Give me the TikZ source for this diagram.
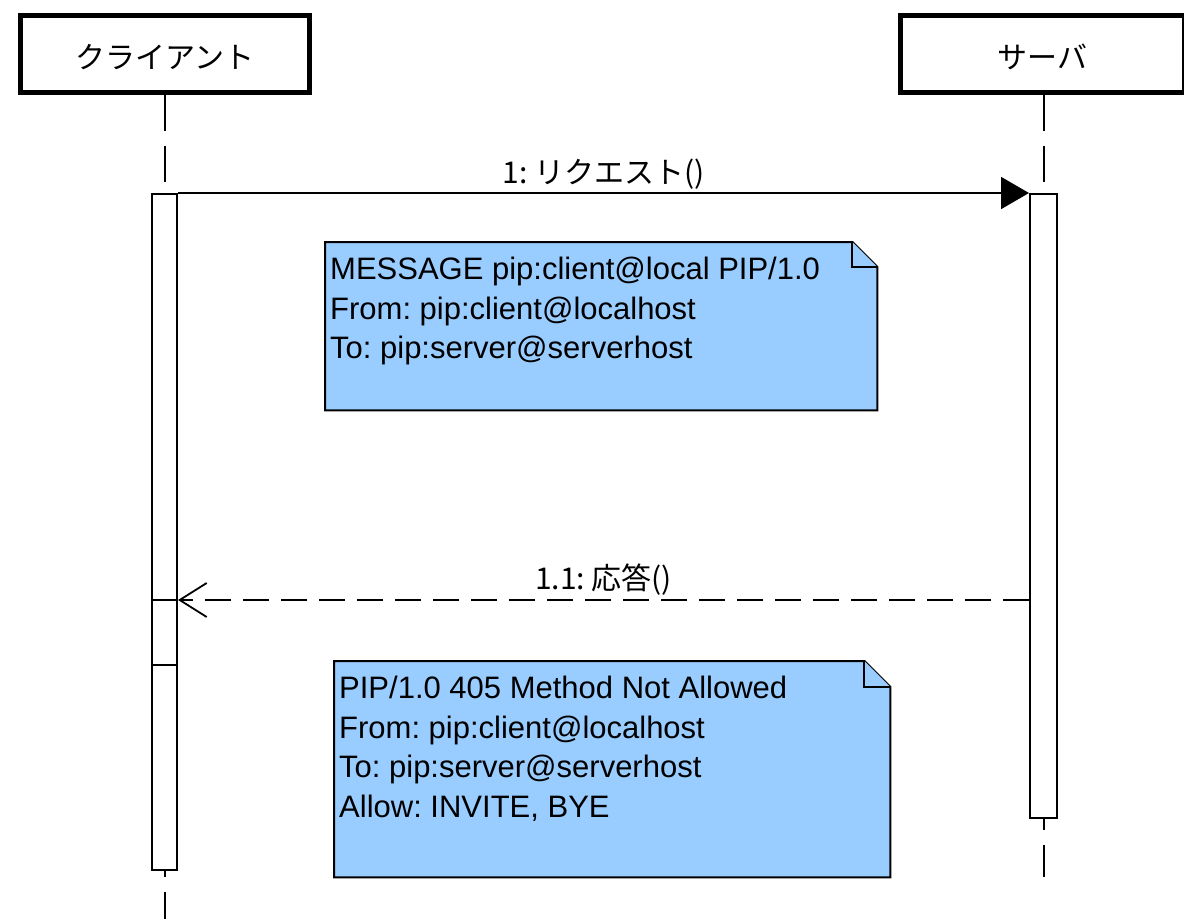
\documentclass[tikz,border=0pt]{standalone}
\usepackage{fontspec}
\setmainfont{Liberation Sans}
\newfontfamily\jp{Noto Sans CJK JP}
\usetikzlibrary{arrows.meta}
\definecolor{notefill}{RGB}{153,204,255}
\frenchspacing
\begin{document}
\begin{tikzpicture}[x=1pt,y=-1pt,
  actor/.style={draw, line width=4.5pt, fill=white, inner sep=0pt},
  lifeline/.style={line width=2pt, dash pattern=on 36pt off 15pt},
  bar/.style={draw, line width=2pt, fill=white, inner sep=0pt},
  msgline/.style={line width=1.8pt},
  jpfont/.style={font=\jp\fontsize{30}{30}\selectfont},
  notebody/.style={draw=none, inner sep=0pt, anchor=north west},
  notepath/.style={draw, line width=2pt, fill=notefill, line join=miter},
  notetext/.style={anchor=north west, inner sep=0pt, align=left,
    font=\fontsize{31}{39.5}\selectfont}
]
\useasboundingbox (0,0) rectangle (1184,919);
\fill[white] (0,0) rectangle (1184,919);

% actors
\node[actor, minimum width=289pt, minimum height=77pt, anchor=north west,
  label={[jpfont, anchor=base, yshift=-3pt]center:クライアント}] (cbox) at (18,13) {};
\node[actor, minimum width=284pt, minimum height=77pt, anchor=north west,
  label={[jpfont, anchor=base, yshift=-3pt]center:サーバ}] (sbox) at (898,13) {};

% activation bars
\node[bar, minimum width=25pt, minimum height=676pt, anchor=north] (cbar) at (164.5,193) {};
\node[bar, minimum width=27pt, minimum height=624pt, anchor=north] (sbar) at (1043.5,193) {};

% lifelines
\coordinate (cend) at (164.5,919);
\coordinate (send) at (1043.5,877);
\draw[lifeline] (cbar.north |- cbox.south) -- (cbar.north);
\draw[lifeline] (sbar.north |- sbox.south) -- (sbar.north);
\draw[lifeline, dash phase=30pt] (cbar.south) -- (cend);
\draw[lifeline, dash phase=25pt] (sbar.south) -- (send);

% division in client bar
\draw[line width=2pt] (cbar.west |- 0,665) -- (cbar.east |- 0,665);

% message 1
\draw[msgline, -{Triangle[length=28pt, width=32pt]}] (cbar.north east) -- (sbar.north west)
  node[midway, anchor=base, yshift=10pt, jpfont] {1: リクエスト()};

% message 2
\draw[msgline, dash pattern=on 26pt off 12pt, -{Straight Barb[length=27pt, width=34pt, line width=1.8pt]}]
  (sbar.west |- 0,600) -- (cbar.east |- 0,600)
  node[midway, anchor=base, yshift=11pt, jpfont] {1.1: 応答()};
\draw[msgline] (cbar.west |- 0,600) -- (cbar.east |- 0,600);

% note 1
\node[notebody, minimum width=552pt, minimum height=168pt] (n1) at (325,242) {};
\draw[notepath] (n1.north west) -- ([shift={(-25,0)}]n1.north east) -- ([shift={(0,25)}]n1.north east)
  -- (n1.south east) -- (n1.south west) -- cycle;
\draw[notepath] ([shift={(-25,0)}]n1.north east) -- ([shift={(-25,25)}]n1.north east)
  -- ([shift={(0,25)}]n1.north east);
\node[notetext] (t1) at ([shift={(5,15)}]n1.north west)
  {MESSAGE pip:client@local PIP/1.0\\From: pip:client@localhost\\To: pip:server@serverhost};

% note 2
\node[notebody, minimum width=556pt, minimum height=216pt] (n2) at (334,661) {};
\draw[notepath] (n2.north west) -- ([shift={(-26,0)}]n2.north east) -- ([shift={(0,26)}]n2.north east)
  -- (n2.south east) -- (n2.south west) -- cycle;
\draw[notepath] ([shift={(-26,0)}]n2.north east) -- ([shift={(-26,26)}]n2.north east)
  -- ([shift={(0,26)}]n2.north east);
\node[notetext] (t2) at ([shift={(5,15)}]n2.north west)
  {PIP/1.0 405 Method Not Allowed\\From: pip:client@localhost\\To: pip:server@serverhost\\Allow: INVITE, BYE};
\end{tikzpicture}
\end{document}
